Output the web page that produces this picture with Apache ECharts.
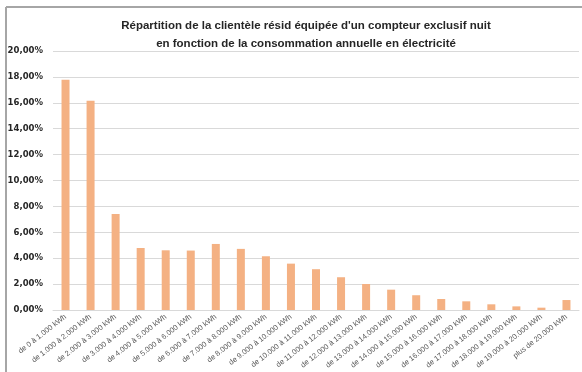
<!DOCTYPE html>
<html>
<head>
<meta charset="utf-8">
<script src="https://cdn.jsdelivr.net/npm/echarts@6/dist/echarts.min.js"></script>
<style>
html,body{margin:0;padding:0;background:#fff;}
#c{width:582px;height:372px;}
</style>
</head>
<body>
<div id="c"></div>
<script>
var titleLines = ["Répartition de la clientèle résid équipée d'un compteur exclusif nuit", "en fonction de la consommation annuelle en électricité"];
var categories = ["de 0 à 1.000 kWh","de 1.000 à 2.000 kWh","de 2.000 à 3.000 kWh","de 3.000 à 4.000 kWh","de 4.000 à 5.000 kWh","de 5.000 à 6.000 kWh","de 6.000 à 7.000 kWh","de 7.000 à 8.000 kWh","de 8.000 à 9.000 kWh","de 9.000 à 10.000 kWh","de 10.000 à 11.000 kWh","de 11.000 à 12.000 kWh","de 12.000 à 13.000 kWh","de 13.000 à 14.000 kWh","de 14.000 à 15.000 kWh","de 15.000 à 16.000 kWh","de 16.000 à 17.000 kWh","de 17.000 à 18.000 kWh","de 18.000 à 19.000 kWh","de 19.000 à 20.000 kWh","plus de 20.000 kWh"];
var shares = [17.78,16.16,7.42,4.79,4.61,4.59,5.10,4.72,4.15,3.58,3.15,2.53,2.01,1.57,1.14,0.85,0.67,0.44,0.28,0.18,0.77];
var yMin = 0, yMax = 20, yStep = 2;

var chart = echarts.init(document.getElementById('c'), null, {renderer:'canvas'});
chart.setOption({
  animation:false,
  backgroundColor:'#ffffff',
  graphic:[
    {type:'line', shape:{x1:6, y1:7, x2:582, y2:7}, style:{stroke:'#a6a6a6', lineWidth:2}},
    {type:'line', shape:{x1:6, y1:7, x2:6, y2:372}, style:{stroke:'#a6a6a6', lineWidth:2}}
  ],
  title:{
    text: titleLines.join('\n'),
    left: 301, top: 12, textAlign:'center',
    textStyle:{fontFamily:'Liberation Sans', fontWeight:'bold', fontSize:11.5, color:'#262626', lineHeight:18}
  },
  grid:{left:53, right:3, top:51, bottom:62, containLabel:false},
  xAxis:{
    type:'category', data:categories,
    axisLine:{show:true, lineStyle:{color:'#d9d9d9', width:1}},
    axisTick:{show:false},
    axisLabel:{rotate:38, interval:0, fontSize:7.5, color:'#595959', fontFamily:'Liberation Sans', margin:6}
  },
  yAxis:{
    type:'value', min:yMin, max:yMax, interval:yStep,
    axisLine:{show:false}, axisTick:{show:false},
    splitLine:{lineStyle:{color:'#d9d9d9', width:1}},
    axisLabel:{formatter:function(v){return v.toFixed(2).replace('.',',')+'%';}, fontSize:8.5, fontWeight:'bold', color:'#262626', fontFamily:'DejaVu Sans', margin:10}
  },
  series:[{
    type:'bar', data:shares, barWidth:8,
    itemStyle:{color:'#F4B183'}
  }]
});
</script>
</body>
</html>
